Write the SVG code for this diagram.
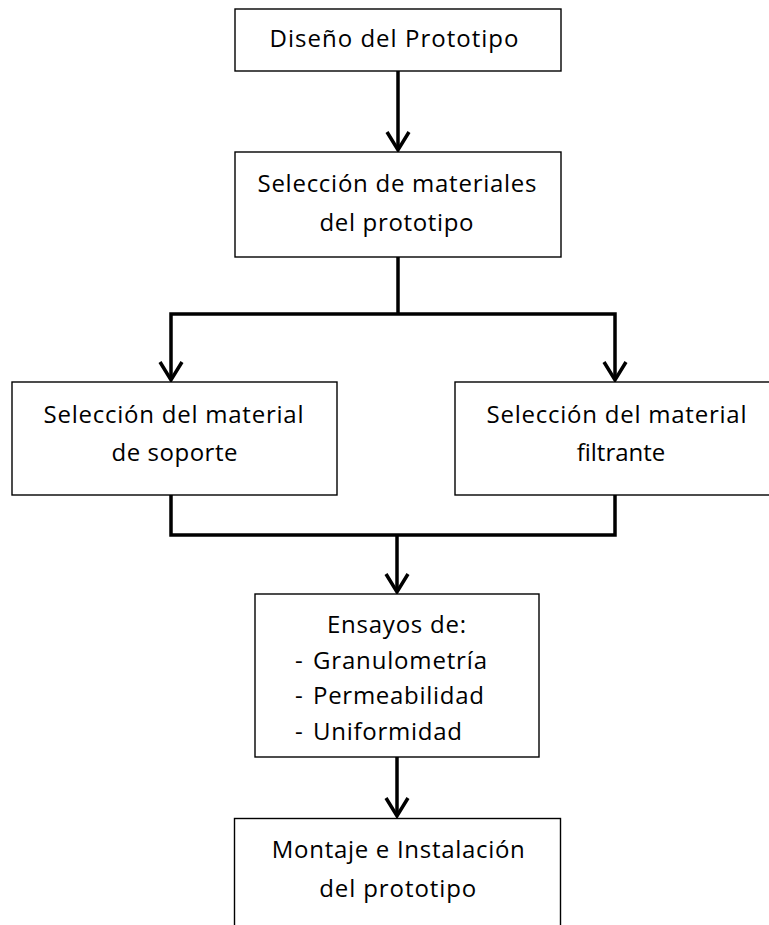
<svg xmlns="http://www.w3.org/2000/svg" width="769" height="925" viewBox="0 0 769 925">
<style>
.box{fill:#fff;stroke:#000;stroke-width:1.4}
.t{font-family:"Open Sans","Noto Sans","Liberation Sans",sans-serif;font-size:24px;fill:#000;font-variant-ligatures:none}
.c{text-anchor:middle}
.ln{fill:none;stroke:#000;stroke-width:3.5}
.ah{fill:none;stroke:#000;stroke-width:3.5;stroke-linejoin:miter}
</style>
<rect width="769" height="925" fill="#fff"/>
<g id="connectors">
<path class="ln" d="M398,71 V150"/>
<path class="ah" d="M387,132 L398,150 L409,132"/>
<path class="ln" d="M398,257 V314"/>
<path class="ln" d="M171,380 V314 H615 V380"/>
<path class="ah" d="M160,362 L171,380 L182,362"/>
<path class="ah" d="M604,362 L615,380 L626,362"/>
<path class="ln" d="M171,495 V535 H615 V495"/>
<path class="ln" d="M397,535 V592"/>
<path class="ah" d="M386,574 L397,592 L408,574"/>
<path class="ln" d="M397,757 V816"/>
<path class="ah" d="M386,798 L397,816 L408,798"/>
</g>
<g id="n1">
<rect class="box" x="235" y="9" width="326" height="62"/>
<text class="t c" x="394" y="47" textLength="249">Diseño del Prototipo</text>
</g>
<g id="n2">
<rect class="box" x="235" y="152" width="326" height="105"/>
<text class="t c" x="397" y="192" textLength="279">Selección de materiales</text>
<text class="t c" x="396.5" y="230.5" textLength="154">del prototipo</text>
</g>
<g id="n3">
<rect class="box" x="12" y="382" width="325" height="113"/>
<text class="t c" x="173.5" y="422.5" textLength="260">Selección del material</text>
<text class="t c" x="174.5" y="461" textLength="126">de soporte</text>
</g>
<g id="n4">
<rect class="box" x="455" y="382" width="340" height="113"/>
<text class="t c" x="616.5" y="422.5" textLength="260">Selección del material</text>
<text class="t c" x="621" y="461">filtrante</text>
</g>
<g id="n5">
<rect class="box" x="255" y="594" width="284" height="163"/>
<text class="t c" x="396.5" y="633" textLength="139">Ensayos de:</text>
<text class="t" x="295" y="669">- <tspan x="313" textLength="174">Granulometría</tspan></text>
<text class="t" x="295" y="704">- <tspan x="313" textLength="171">Permeabilidad</tspan></text>
<text class="t" x="295" y="740">- <tspan x="313" textLength="149">Uniformidad</tspan></text>
</g>
<g id="n6">
<rect class="box" x="234.5" y="818.5" width="326" height="140"/>
<text class="t c" x="398.3" y="858" textLength="253">Montaje e Instalación</text>
<text class="t c" x="397.7" y="896.5" textLength="157">del prototipo</text>
</g>
</svg>
